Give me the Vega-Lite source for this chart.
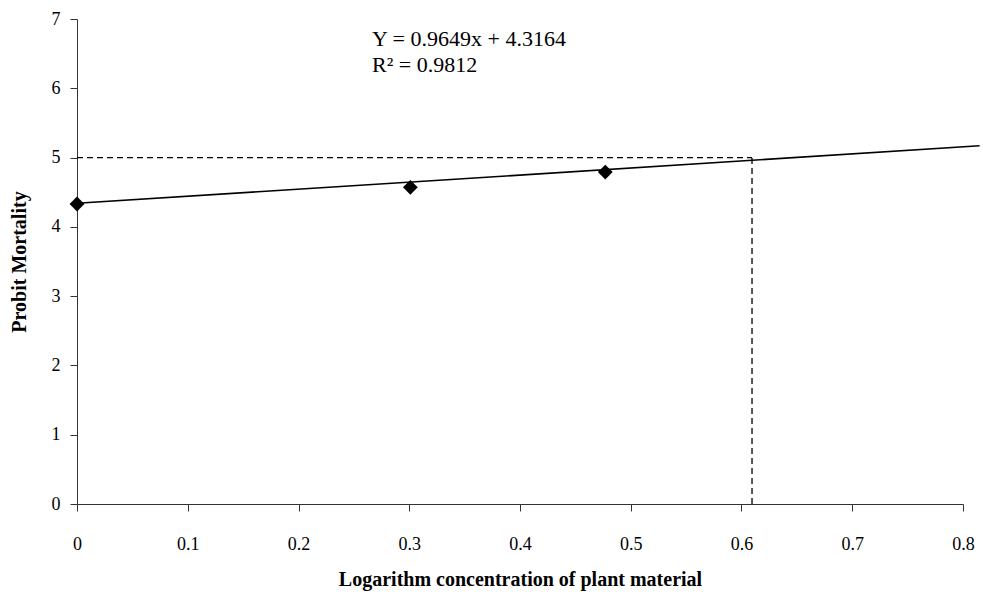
{
  "$schema": "https://vega.github.io/schema/vega-lite/v6.json",
  "width": 886,
  "height": 485,
  "autosize": {"type": "none"},
  "padding": {"left": 77, "top": 19, "right": 20, "bottom": 96},
  "background": "white",
  "config": {"view": {"stroke": null}},
  "datasets": {
    "points": [
      {"x": 0, "y": 4.33},
      {"x": 0.301, "y": 4.57},
      {"x": 0.477, "y": 4.79}
    ],
    "trend": [
      {"x": 0, "y": 4.34},
      {"x": 0.815, "y": 5.17}
    ],
    "hdash": [
      {"x": 0, "y": 5},
      {"x": 0.6095, "y": 5}
    ],
    "vdash": [
      {"x": 0.6095, "y": 0},
      {"x": 0.6095, "y": 5}
    ],
    "notes": [
      {"x": 0.2664, "y": 6.61, "label": "Y = 0.9649x + 4.3164"},
      {"x": 0.2664, "y": 6.235, "label": "R² =  0.9812"}
    ]
  },
  "layer": [
    {
      "data": {"name": "hdash"},
      "mark": {"type": "line", "color": "black", "strokeWidth": 1.3, "strokeDash": [6, 4]},
      "encoding": {
        "x": {"field": "x", "type": "quantitative", "scale": {"domain": [0, 0.8], "nice": false},
          "axis": {"values": [0, 0.1, 0.2, 0.3, 0.4, 0.5, 0.6, 0.7, 0.8], "format": ".1~f", "title": "Logarithm concentration of plant material",
            "grid": false, "domainColor": "#333", "tickColor": "#333", "tickSize": 7, "labelPadding": 24,
            "labelFont": "Liberation Serif", "labelFontSize": 18, "labelColor": "black", "labelFlush": false,
            "titleFont": "Liberation Serif", "titleFontSize": 20, "titleFontWeight": "bold", "titleColor": "black", "titlePadding": 16}},
        "y": {"field": "y", "type": "quantitative", "scale": {"domain": [0, 7], "nice": false},
          "axis": {"values": [0, 1, 2, 3, 4, 5, 6, 7], "format": "d", "title": "Probit Mortality",
            "grid": false, "domainColor": "#333", "tickColor": "#333", "tickSize": 7, "labelPadding": 10,
            "labelFont": "Liberation Serif", "labelFontSize": 18, "labelColor": "black",
            "titleFont": "Liberation Serif", "titleFontSize": 20, "titleFontWeight": "bold", "titleColor": "black", "titlePadding": 22}}
      }
    },
    {
      "data": {"name": "vdash"},
      "mark": {"type": "line", "color": "black", "strokeWidth": 1.3, "strokeDash": [6, 4]},
      "encoding": {
        "x": {"field": "x", "type": "quantitative"},
        "y": {"field": "y", "type": "quantitative"}
      }
    },
    {
      "data": {"name": "trend"},
      "mark": {"type": "line", "color": "black", "strokeWidth": 1.6, "clip": false},
      "encoding": {
        "x": {"field": "x", "type": "quantitative"},
        "y": {"field": "y", "type": "quantitative"}
      }
    },
    {
      "data": {"name": "points"},
      "mark": {"type": "point", "shape": "diamond", "filled": true, "color": "black", "size": 220, "opacity": 1, "clip": false},
      "encoding": {
        "x": {"field": "x", "type": "quantitative"},
        "y": {"field": "y", "type": "quantitative"}
      }
    },
    {
      "data": {"name": "notes"},
      "mark": {"type": "text", "align": "left", "baseline": "alphabetic", "font": "Liberation Serif", "fontSize": 22, "color": "black"},
      "encoding": {
        "x": {"field": "x", "type": "quantitative"},
        "y": {"field": "y", "type": "quantitative"},
        "text": {"field": "label"}
      }
    }
  ]
}
